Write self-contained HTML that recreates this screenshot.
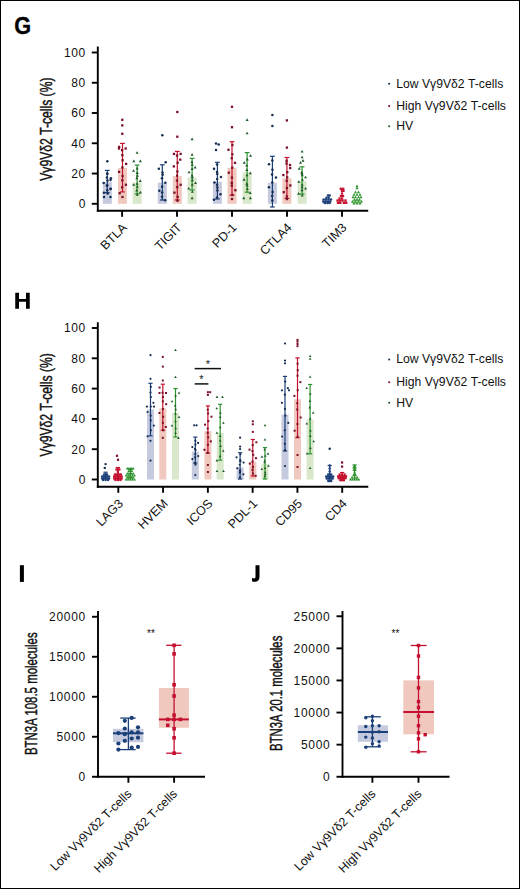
<!DOCTYPE html><html><head><meta charset="utf-8"><title>Figure</title><style>html,body{margin:0;padding:0;background:#fff;width:520px;height:889px;overflow:hidden}svg{display:block}text{font-family:"Liberation Sans",sans-serif}</style></head><body>
<svg width="520" height="889" viewBox="0 0 520 889">
<rect x="0" y="0" width="520" height="889" fill="#fff"/>
<rect x="0.5" y="0.5" width="519" height="888" fill="none" stroke="#000" stroke-width="1"/>
<text transform="translate(14.3 33.9) scale(0.93 1)" font-size="23.3" font-weight="bold" fill="#000" stroke="#000" stroke-width="0.35">G</text>
<path d="M15.25,292.75h3.75v6.35h7v-6.35h3.75v16h-3.75v-7h-7v7h-3.75z" fill="#000"/>
<rect x="19.9" y="565.2" width="4" height="16.7" fill="#000"/>
<path d="M255.5,565.25H259.5V576.6C259.5,580.3 257.6,581.85 254.9,581.85C253.6,581.85 252.6,581.6 252,581.3V578C252.6,578.3 253.4,578.4 254.2,578.4C255.2,578.4 255.5,577.8 255.5,576.5Z" fill="#000"/>
<line x1="97.8" y1="46.5" x2="97.8" y2="211.75" stroke="#000" stroke-width="1.9"/>
<line x1="96.85" y1="210.8" x2="368.2" y2="210.8" stroke="#000" stroke-width="1.9"/>
<line x1="91.8" y1="52.5" x2="97.8" y2="52.5" stroke="#000" stroke-width="1.9"/>
<text x="86.00" y="56.80" text-anchor="end" font-size="12" letter-spacing="0.7" fill="#111">100</text>
<line x1="91.8" y1="82.76" x2="97.8" y2="82.76" stroke="#000" stroke-width="1.9"/>
<text x="86.00" y="87.06" text-anchor="end" font-size="12" letter-spacing="0.7" fill="#111">80</text>
<line x1="91.8" y1="113.02000000000001" x2="97.8" y2="113.02000000000001" stroke="#000" stroke-width="1.9"/>
<text x="86.00" y="117.32" text-anchor="end" font-size="12" letter-spacing="0.7" fill="#111">60</text>
<line x1="91.8" y1="143.28" x2="97.8" y2="143.28" stroke="#000" stroke-width="1.9"/>
<text x="86.00" y="147.58" text-anchor="end" font-size="12" letter-spacing="0.7" fill="#111">40</text>
<line x1="91.8" y1="173.54000000000002" x2="97.8" y2="173.54000000000002" stroke="#000" stroke-width="1.9"/>
<text x="86.00" y="177.84" text-anchor="end" font-size="12" letter-spacing="0.7" fill="#111">20</text>
<line x1="91.8" y1="203.8" x2="97.8" y2="203.8" stroke="#000" stroke-width="1.9"/>
<text x="86.00" y="208.10" text-anchor="end" font-size="12" letter-spacing="0.7" fill="#111">0</text>
<line x1="122.1" y1="210.8" x2="122.1" y2="216.8" stroke="#000" stroke-width="1.9"/>
<line x1="177" y1="210.8" x2="177" y2="216.8" stroke="#000" stroke-width="1.9"/>
<line x1="232" y1="210.8" x2="232" y2="216.8" stroke="#000" stroke-width="1.9"/>
<line x1="287" y1="210.8" x2="287" y2="216.8" stroke="#000" stroke-width="1.9"/>
<line x1="342" y1="210.8" x2="342" y2="216.8" stroke="#000" stroke-width="1.9"/>
<text x="127.60" y="228.30" transform="rotate(-45 127.60 228.30)" text-anchor="end" font-size="12.5" fill="#111">BTLA</text>
<text x="182.50" y="228.30" transform="rotate(-45 182.50 228.30)" text-anchor="end" font-size="12.5" fill="#111">TIGIT</text>
<text x="237.50" y="228.30" transform="rotate(-45 237.50 228.30)" text-anchor="end" font-size="12.5" fill="#111">PD-1</text>
<text x="292.50" y="228.30" transform="rotate(-45 292.50 228.30)" text-anchor="end" font-size="12.5" fill="#111">CTLA4</text>
<text x="347.50" y="228.30" transform="rotate(-45 347.50 228.30)" text-anchor="end" font-size="12.5" fill="#111">TIM3</text>
<text transform="translate(51.90 129.15) rotate(-90)" x="0" y="0" text-anchor="middle" font-size="17.3" textLength="103.3" lengthAdjust="spacingAndGlyphs" fill="#111" stroke="#111" stroke-width="0.45">V&#947;9V&#948;2 T-cells (%)</text>
<circle cx="389.20" cy="83.80" r="1.05" fill="#142d50"/>
<text x="396.2" y="87.7" font-size="12.2" fill="#111">Low V&#947;9V&#948;2 T-cells</text>
<circle cx="389.20" cy="106.10" r="1.05" fill="#7a1028"/>
<text x="396.2" y="110.0" font-size="12.2" fill="#111">High V&#947;9V&#948;2 T-cells</text>
<circle cx="389.20" cy="126.30" r="1.05" fill="#1f5a26"/>
<text x="396.2" y="130.2" font-size="12.2" fill="#111">HV</text>
<rect x="102.80" y="182.00" width="9.00" height="21.80" fill="#c5cadf"/>
<line x1="107.30" y1="170.40" x2="107.30" y2="192.70" stroke="#1b3f78" stroke-width="1.2"/>
<line x1="104.90" y1="170.40" x2="109.70" y2="170.40" stroke="#1b3f78" stroke-width="1.2"/>
<line x1="104.90" y1="192.70" x2="109.70" y2="192.70" stroke="#1b3f78" stroke-width="1.2"/>
<circle cx="107.30" cy="161.20" r="1.26" fill="#142d50"/>
<circle cx="110.50" cy="180.00" r="1.26" fill="#142d50"/>
<circle cx="104.00" cy="197.00" r="1.26" fill="#142d50"/>
<circle cx="110.50" cy="197.00" r="1.26" fill="#142d50"/>
<circle cx="110.50" cy="189.00" r="1.26" fill="#142d50"/>
<circle cx="107.58" cy="193.50" r="1.26" fill="#142d50"/>
<circle cx="103.90" cy="192.82" r="1.26" fill="#142d50"/>
<circle cx="107.26" cy="190.34" r="1.26" fill="#142d50"/>
<circle cx="110.73" cy="188.71" r="1.26" fill="#142d50"/>
<circle cx="106.92" cy="185.65" r="1.26" fill="#142d50"/>
<circle cx="107.25" cy="185.19" r="1.26" fill="#142d50"/>
<circle cx="103.70" cy="183.10" r="1.26" fill="#142d50"/>
<circle cx="107.48" cy="180.53" r="1.26" fill="#142d50"/>
<circle cx="110.86" cy="178.15" r="1.26" fill="#142d50"/>
<circle cx="106.92" cy="177.56" r="1.26" fill="#142d50"/>
<circle cx="107.33" cy="173.86" r="1.26" fill="#142d50"/>
<circle cx="107.20" cy="173.75" r="1.26" fill="#142d50"/>
<rect x="118.00" y="167.90" width="9.00" height="35.90" fill="#f0c8be"/>
<line x1="122.50" y1="143.40" x2="122.50" y2="191.90" stroke="#c40f2e" stroke-width="1.2"/>
<line x1="120.10" y1="143.40" x2="124.90" y2="143.40" stroke="#c40f2e" stroke-width="1.2"/>
<line x1="120.10" y1="191.90" x2="124.90" y2="191.90" stroke="#c40f2e" stroke-width="1.2"/>
<rect x="121.15" y="118.65" width="2.30" height="2.30" fill="#7a1028"/>
<rect x="121.15" y="124.25" width="2.30" height="2.30" fill="#7a1028"/>
<rect x="121.15" y="132.65" width="2.30" height="2.30" fill="#7a1028"/>
<rect x="117.85" y="147.35" width="2.30" height="2.30" fill="#7a1028"/>
<rect x="124.55" y="147.35" width="2.30" height="2.30" fill="#7a1028"/>
<rect x="121.35" y="195.85" width="2.30" height="2.30" fill="#7a1028"/>
<rect x="118.51" y="192.10" width="2.30" height="2.30" fill="#7a1028"/>
<rect x="121.02" y="186.18" width="2.30" height="2.30" fill="#7a1028"/>
<rect x="124.74" y="183.61" width="2.30" height="2.30" fill="#7a1028"/>
<rect x="121.20" y="179.15" width="2.30" height="2.30" fill="#7a1028"/>
<rect x="121.44" y="174.90" width="2.30" height="2.30" fill="#7a1028"/>
<rect x="117.88" y="170.72" width="2.30" height="2.30" fill="#7a1028"/>
<rect x="121.26" y="166.30" width="2.30" height="2.30" fill="#7a1028"/>
<rect x="124.95" y="162.76" width="2.30" height="2.30" fill="#7a1028"/>
<rect x="121.39" y="159.09" width="2.30" height="2.30" fill="#7a1028"/>
<rect x="121.16" y="153.95" width="2.30" height="2.30" fill="#7a1028"/>
<rect x="120.97" y="149.01" width="2.30" height="2.30" fill="#7a1028"/>
<rect x="118.00" y="145.74" width="2.30" height="2.30" fill="#7a1028"/>
<rect x="132.60" y="182.50" width="9.00" height="21.30" fill="#d9e8cb"/>
<line x1="137.10" y1="165.10" x2="137.10" y2="193.80" stroke="#2c932e" stroke-width="1.2"/>
<line x1="134.70" y1="165.10" x2="139.50" y2="165.10" stroke="#2c932e" stroke-width="1.2"/>
<line x1="134.70" y1="193.80" x2="139.50" y2="193.80" stroke="#2c932e" stroke-width="1.2"/>
<path d="M137.10,151.18L138.59,153.84L135.60,153.84Z" fill="#1f5a26"/>
<path d="M133.80,159.48L135.30,162.14L132.31,162.14Z" fill="#1f5a26"/>
<path d="M140.40,159.48L141.90,162.14L138.91,162.14Z" fill="#1f5a26"/>
<path d="M137.14,193.02L138.63,195.68L135.64,195.68Z" fill="#1f5a26"/>
<path d="M140.38,190.81L141.88,193.47L138.89,193.47Z" fill="#1f5a26"/>
<path d="M136.75,188.85L138.25,191.50L135.26,191.50Z" fill="#1f5a26"/>
<path d="M137.37,185.15L138.86,187.80L135.87,187.80Z" fill="#1f5a26"/>
<path d="M133.69,183.16L135.18,185.82L132.19,185.82Z" fill="#1f5a26"/>
<path d="M137.08,182.16L138.57,184.82L135.58,184.82Z" fill="#1f5a26"/>
<path d="M140.28,179.37L141.78,182.02L138.79,182.02Z" fill="#1f5a26"/>
<path d="M136.82,176.50L138.32,179.15L135.33,179.15Z" fill="#1f5a26"/>
<path d="M137.39,174.01L138.89,176.67L135.90,176.67Z" fill="#1f5a26"/>
<path d="M137.29,171.32L138.79,173.97L135.80,173.97Z" fill="#1f5a26"/>
<path d="M133.55,169.14L135.05,171.79L132.06,171.79Z" fill="#1f5a26"/>
<path d="M137.17,166.84L138.67,169.49L135.68,169.49Z" fill="#1f5a26"/>
<rect x="157.80" y="182.60" width="9.00" height="21.20" fill="#c5cadf"/>
<line x1="162.30" y1="164.80" x2="162.30" y2="200.00" stroke="#1b3f78" stroke-width="1.2"/>
<line x1="159.90" y1="164.80" x2="164.70" y2="164.80" stroke="#1b3f78" stroke-width="1.2"/>
<line x1="159.90" y1="200.00" x2="164.70" y2="200.00" stroke="#1b3f78" stroke-width="1.2"/>
<circle cx="162.30" cy="135.30" r="1.26" fill="#142d50"/>
<circle cx="165.70" cy="162.30" r="1.26" fill="#142d50"/>
<circle cx="165.18" cy="200.16" r="1.26" fill="#142d50"/>
<circle cx="162.02" cy="196.86" r="1.26" fill="#142d50"/>
<circle cx="162.22" cy="192.58" r="1.26" fill="#142d50"/>
<circle cx="159.34" cy="190.67" r="1.26" fill="#142d50"/>
<circle cx="162.08" cy="186.74" r="1.26" fill="#142d50"/>
<circle cx="165.32" cy="182.66" r="1.26" fill="#142d50"/>
<circle cx="161.98" cy="178.32" r="1.26" fill="#142d50"/>
<circle cx="162.64" cy="174.78" r="1.26" fill="#142d50"/>
<circle cx="162.55" cy="172.39" r="1.26" fill="#142d50"/>
<circle cx="158.85" cy="168.71" r="1.26" fill="#142d50"/>
<rect x="172.80" y="176.10" width="9.00" height="27.70" fill="#f0c8be"/>
<line x1="177.30" y1="151.40" x2="177.30" y2="200.00" stroke="#c40f2e" stroke-width="1.2"/>
<line x1="174.90" y1="151.40" x2="179.70" y2="151.40" stroke="#c40f2e" stroke-width="1.2"/>
<line x1="174.90" y1="200.00" x2="179.70" y2="200.00" stroke="#c40f2e" stroke-width="1.2"/>
<rect x="176.15" y="110.85" width="2.30" height="2.30" fill="#7a1028"/>
<rect x="176.15" y="135.55" width="2.30" height="2.30" fill="#7a1028"/>
<rect x="172.85" y="152.75" width="2.30" height="2.30" fill="#7a1028"/>
<rect x="179.45" y="152.75" width="2.30" height="2.30" fill="#7a1028"/>
<rect x="176.34" y="199.53" width="2.30" height="2.30" fill="#7a1028"/>
<rect x="176.50" y="195.74" width="2.30" height="2.30" fill="#7a1028"/>
<rect x="173.29" y="191.50" width="2.30" height="2.30" fill="#7a1028"/>
<rect x="176.12" y="185.94" width="2.30" height="2.30" fill="#7a1028"/>
<rect x="179.47" y="183.64" width="2.30" height="2.30" fill="#7a1028"/>
<rect x="175.84" y="179.42" width="2.30" height="2.30" fill="#7a1028"/>
<rect x="175.95" y="174.42" width="2.30" height="2.30" fill="#7a1028"/>
<rect x="176.21" y="170.44" width="2.30" height="2.30" fill="#7a1028"/>
<rect x="172.72" y="165.24" width="2.30" height="2.30" fill="#7a1028"/>
<rect x="176.48" y="161.64" width="2.30" height="2.30" fill="#7a1028"/>
<rect x="179.08" y="158.48" width="2.30" height="2.30" fill="#7a1028"/>
<rect x="175.86" y="154.41" width="2.30" height="2.30" fill="#7a1028"/>
<rect x="187.60" y="177.50" width="9.00" height="26.30" fill="#d9e8cb"/>
<line x1="192.10" y1="158.40" x2="192.10" y2="190.00" stroke="#2c932e" stroke-width="1.2"/>
<line x1="189.70" y1="158.40" x2="194.50" y2="158.40" stroke="#2c932e" stroke-width="1.2"/>
<line x1="189.70" y1="190.00" x2="194.50" y2="190.00" stroke="#2c932e" stroke-width="1.2"/>
<path d="M192.10,137.48L193.59,140.14L190.60,140.14Z" fill="#1f5a26"/>
<path d="M192.10,152.98L193.59,155.64L190.60,155.64Z" fill="#1f5a26"/>
<path d="M192.10,196.48L193.59,199.14L190.60,199.14Z" fill="#1f5a26"/>
<path d="M192.36,190.21L193.85,192.87L190.86,192.87Z" fill="#1f5a26"/>
<path d="M188.71,186.88L190.20,189.53L187.21,189.53Z" fill="#1f5a26"/>
<path d="M192.23,183.19L193.73,185.85L190.74,185.85Z" fill="#1f5a26"/>
<path d="M195.51,181.41L197.00,184.07L194.01,184.07Z" fill="#1f5a26"/>
<path d="M192.32,178.50L193.81,181.16L190.82,181.16Z" fill="#1f5a26"/>
<path d="M192.34,175.59L193.84,178.24L190.85,178.24Z" fill="#1f5a26"/>
<path d="M192.03,173.78L193.53,176.44L190.54,176.44Z" fill="#1f5a26"/>
<path d="M189.05,170.68L190.54,173.34L187.55,173.34Z" fill="#1f5a26"/>
<path d="M192.14,167.28L193.64,169.93L190.65,169.93Z" fill="#1f5a26"/>
<path d="M195.11,165.78L196.61,168.44L193.62,168.44Z" fill="#1f5a26"/>
<path d="M192.25,163.06L193.74,165.72L190.75,165.72Z" fill="#1f5a26"/>
<path d="M191.97,160.43L193.46,163.09L190.47,163.09Z" fill="#1f5a26"/>
<rect x="212.90" y="181.70" width="9.00" height="22.10" fill="#c5cadf"/>
<line x1="217.40" y1="162.30" x2="217.40" y2="199.00" stroke="#1b3f78" stroke-width="1.2"/>
<line x1="215.00" y1="162.30" x2="219.80" y2="162.30" stroke="#1b3f78" stroke-width="1.2"/>
<line x1="215.00" y1="199.00" x2="219.80" y2="199.00" stroke="#1b3f78" stroke-width="1.2"/>
<circle cx="216.00" cy="143.60" r="1.26" fill="#142d50"/>
<circle cx="218.70" cy="144.60" r="1.26" fill="#142d50"/>
<circle cx="216.00" cy="150.00" r="1.26" fill="#142d50"/>
<circle cx="213.92" cy="199.70" r="1.26" fill="#142d50"/>
<circle cx="217.06" cy="197.45" r="1.26" fill="#142d50"/>
<circle cx="220.49" cy="194.32" r="1.26" fill="#142d50"/>
<circle cx="217.41" cy="190.47" r="1.26" fill="#142d50"/>
<circle cx="217.35" cy="187.52" r="1.26" fill="#142d50"/>
<circle cx="217.07" cy="184.69" r="1.26" fill="#142d50"/>
<circle cx="214.46" cy="182.50" r="1.26" fill="#142d50"/>
<circle cx="217.18" cy="179.00" r="1.26" fill="#142d50"/>
<circle cx="220.96" cy="177.10" r="1.26" fill="#142d50"/>
<circle cx="217.32" cy="174.10" r="1.26" fill="#142d50"/>
<circle cx="217.04" cy="172.00" r="1.26" fill="#142d50"/>
<circle cx="214.03" cy="168.87" r="1.26" fill="#142d50"/>
<circle cx="217.09" cy="164.54" r="1.26" fill="#142d50"/>
<rect x="227.50" y="167.80" width="9.00" height="36.00" fill="#f0c8be"/>
<line x1="232.00" y1="141.70" x2="232.00" y2="195.30" stroke="#c40f2e" stroke-width="1.2"/>
<line x1="229.60" y1="141.70" x2="234.40" y2="141.70" stroke="#c40f2e" stroke-width="1.2"/>
<line x1="229.60" y1="195.30" x2="234.40" y2="195.30" stroke="#c40f2e" stroke-width="1.2"/>
<rect x="230.85" y="105.65" width="2.30" height="2.30" fill="#7a1028"/>
<rect x="230.85" y="126.05" width="2.30" height="2.30" fill="#7a1028"/>
<rect x="230.85" y="197.85" width="2.30" height="2.30" fill="#7a1028"/>
<rect x="231.22" y="193.83" width="2.30" height="2.30" fill="#7a1028"/>
<rect x="234.21" y="189.08" width="2.30" height="2.30" fill="#7a1028"/>
<rect x="230.65" y="184.45" width="2.30" height="2.30" fill="#7a1028"/>
<rect x="230.62" y="181.72" width="2.30" height="2.30" fill="#7a1028"/>
<rect x="230.82" y="176.46" width="2.30" height="2.30" fill="#7a1028"/>
<rect x="227.65" y="171.53" width="2.30" height="2.30" fill="#7a1028"/>
<rect x="231.11" y="166.46" width="2.30" height="2.30" fill="#7a1028"/>
<rect x="233.84" y="161.70" width="2.30" height="2.30" fill="#7a1028"/>
<rect x="230.66" y="157.01" width="2.30" height="2.30" fill="#7a1028"/>
<rect x="231.17" y="153.24" width="2.30" height="2.30" fill="#7a1028"/>
<rect x="227.34" y="148.63" width="2.30" height="2.30" fill="#7a1028"/>
<rect x="231.24" y="143.84" width="2.30" height="2.30" fill="#7a1028"/>
<rect x="242.60" y="172.40" width="9.00" height="31.40" fill="#d9e8cb"/>
<line x1="247.10" y1="152.60" x2="247.10" y2="192.20" stroke="#2c932e" stroke-width="1.2"/>
<line x1="244.70" y1="152.60" x2="249.50" y2="152.60" stroke="#2c932e" stroke-width="1.2"/>
<line x1="244.70" y1="192.20" x2="249.50" y2="192.20" stroke="#2c932e" stroke-width="1.2"/>
<path d="M247.10,118.28L248.59,120.94L245.60,120.94Z" fill="#1f5a26"/>
<path d="M247.10,131.68L248.59,134.34L245.60,134.34Z" fill="#1f5a26"/>
<path d="M243.80,196.48L245.30,199.14L242.31,199.14Z" fill="#1f5a26"/>
<path d="M250.40,196.48L251.90,199.14L248.91,199.14Z" fill="#1f5a26"/>
<path d="M250.20,191.42L251.69,194.07L248.70,194.07Z" fill="#1f5a26"/>
<path d="M247.39,187.38L248.89,190.04L245.90,190.04Z" fill="#1f5a26"/>
<path d="M247.10,183.74L248.60,186.39L245.61,186.39Z" fill="#1f5a26"/>
<path d="M246.76,182.14L248.26,184.79L245.27,184.79Z" fill="#1f5a26"/>
<path d="M243.99,178.07L245.49,180.72L242.50,180.72Z" fill="#1f5a26"/>
<path d="M247.00,173.66L248.50,176.31L245.51,176.31Z" fill="#1f5a26"/>
<path d="M250.26,171.60L251.76,174.25L248.77,174.25Z" fill="#1f5a26"/>
<path d="M246.83,168.26L248.32,170.91L245.33,170.91Z" fill="#1f5a26"/>
<path d="M246.79,163.90L248.28,166.56L245.29,166.56Z" fill="#1f5a26"/>
<path d="M244.24,161.05L245.73,163.71L242.74,163.71Z" fill="#1f5a26"/>
<path d="M247.32,157.84L248.81,160.49L245.82,160.49Z" fill="#1f5a26"/>
<path d="M250.50,154.04L251.99,156.70L249.00,156.70Z" fill="#1f5a26"/>
<rect x="267.90" y="182.70" width="9.00" height="21.10" fill="#c5cadf"/>
<line x1="272.40" y1="156.30" x2="272.40" y2="207.00" stroke="#1b3f78" stroke-width="1.2"/>
<line x1="270.00" y1="156.30" x2="274.80" y2="156.30" stroke="#1b3f78" stroke-width="1.2"/>
<line x1="270.00" y1="207.00" x2="274.80" y2="207.00" stroke="#1b3f78" stroke-width="1.2"/>
<circle cx="272.40" cy="115.10" r="1.26" fill="#142d50"/>
<circle cx="272.40" cy="126.00" r="1.26" fill="#142d50"/>
<circle cx="272.34" cy="200.50" r="1.26" fill="#142d50"/>
<circle cx="272.16" cy="196.04" r="1.26" fill="#142d50"/>
<circle cx="272.66" cy="192.03" r="1.26" fill="#142d50"/>
<circle cx="268.93" cy="187.23" r="1.26" fill="#142d50"/>
<circle cx="272.26" cy="182.48" r="1.26" fill="#142d50"/>
<circle cx="275.96" cy="177.46" r="1.26" fill="#142d50"/>
<circle cx="272.04" cy="174.47" r="1.26" fill="#142d50"/>
<circle cx="272.48" cy="169.72" r="1.26" fill="#142d50"/>
<circle cx="269.03" cy="164.28" r="1.26" fill="#142d50"/>
<circle cx="272.37" cy="160.39" r="1.26" fill="#142d50"/>
<rect x="282.40" y="178.20" width="9.00" height="25.60" fill="#f0c8be"/>
<line x1="286.90" y1="157.50" x2="286.90" y2="198.40" stroke="#c40f2e" stroke-width="1.2"/>
<line x1="284.50" y1="157.50" x2="289.30" y2="157.50" stroke="#c40f2e" stroke-width="1.2"/>
<line x1="284.50" y1="198.40" x2="289.30" y2="198.40" stroke="#c40f2e" stroke-width="1.2"/>
<rect x="285.75" y="119.25" width="2.30" height="2.30" fill="#7a1028"/>
<rect x="285.75" y="146.45" width="2.30" height="2.30" fill="#7a1028"/>
<rect x="288.85" y="163.85" width="2.30" height="2.30" fill="#7a1028"/>
<rect x="285.80" y="197.91" width="2.30" height="2.30" fill="#7a1028"/>
<rect x="285.72" y="195.36" width="2.30" height="2.30" fill="#7a1028"/>
<rect x="282.62" y="191.04" width="2.30" height="2.30" fill="#7a1028"/>
<rect x="285.76" y="186.90" width="2.30" height="2.30" fill="#7a1028"/>
<rect x="289.18" y="184.30" width="2.30" height="2.30" fill="#7a1028"/>
<rect x="285.59" y="179.73" width="2.30" height="2.30" fill="#7a1028"/>
<rect x="286.00" y="176.24" width="2.30" height="2.30" fill="#7a1028"/>
<rect x="282.18" y="173.95" width="2.30" height="2.30" fill="#7a1028"/>
<rect x="286.12" y="171.04" width="2.30" height="2.30" fill="#7a1028"/>
<rect x="289.04" y="166.89" width="2.30" height="2.30" fill="#7a1028"/>
<rect x="285.36" y="162.40" width="2.30" height="2.30" fill="#7a1028"/>
<rect x="285.40" y="159.65" width="2.30" height="2.30" fill="#7a1028"/>
<rect x="297.60" y="181.00" width="9.00" height="22.80" fill="#d9e8cb"/>
<line x1="302.10" y1="166.80" x2="302.10" y2="194.00" stroke="#2c932e" stroke-width="1.2"/>
<line x1="299.70" y1="166.80" x2="304.50" y2="166.80" stroke="#2c932e" stroke-width="1.2"/>
<line x1="299.70" y1="194.00" x2="304.50" y2="194.00" stroke="#2c932e" stroke-width="1.2"/>
<path d="M302.10,149.88L303.60,152.54L300.61,152.54Z" fill="#1f5a26"/>
<path d="M302.10,155.68L303.60,158.34L300.61,158.34Z" fill="#1f5a26"/>
<path d="M303.00,159.08L304.50,161.74L301.50,161.74Z" fill="#1f5a26"/>
<path d="M300.50,160.98L302.00,163.64L299.00,163.64Z" fill="#1f5a26"/>
<path d="M302.23,193.85L303.72,196.50L300.73,196.50Z" fill="#1f5a26"/>
<path d="M298.61,192.06L300.11,194.72L297.12,194.72Z" fill="#1f5a26"/>
<path d="M302.00,188.58L303.49,191.24L300.50,191.24Z" fill="#1f5a26"/>
<path d="M305.55,186.94L307.04,189.59L304.05,189.59Z" fill="#1f5a26"/>
<path d="M302.18,185.60L303.68,188.26L300.69,188.26Z" fill="#1f5a26"/>
<path d="M302.23,183.17L303.72,185.82L300.73,185.82Z" fill="#1f5a26"/>
<path d="M298.85,180.17L300.35,182.83L297.36,182.83Z" fill="#1f5a26"/>
<path d="M302.42,178.04L303.92,180.69L300.93,180.69Z" fill="#1f5a26"/>
<path d="M305.56,175.66L307.05,178.32L304.06,178.32Z" fill="#1f5a26"/>
<path d="M302.25,173.52L303.74,176.18L300.75,176.18Z" fill="#1f5a26"/>
<path d="M302.02,171.88L303.52,174.54L300.53,174.54Z" fill="#1f5a26"/>
<path d="M301.71,170.72L303.21,173.38L300.22,173.38Z" fill="#1f5a26"/>
<path d="M299.23,166.99L300.73,169.64L297.74,169.64Z" fill="#1f5a26"/>
<rect x="322.5" y="200.5" width="9" height="3.3" fill="#c5cadf"/>
<rect x="337.5" y="199.5" width="9" height="4.3" fill="#f0c8be"/>
<rect x="352.5" y="199.5" width="9" height="4.3" fill="#d9e8cb"/>
<circle cx="328.00" cy="195.60" r="1.26" fill="#1b3f78"/>
<circle cx="329.70" cy="195.60" r="1.26" fill="#1b3f78"/>
<circle cx="326.50" cy="197.80" r="1.26" fill="#1b3f78"/>
<circle cx="328.70" cy="197.80" r="1.26" fill="#1b3f78"/>
<circle cx="323.70" cy="199.60" r="1.26" fill="#1b3f78"/>
<circle cx="326.00" cy="199.60" r="1.26" fill="#1b3f78"/>
<circle cx="328.50" cy="199.60" r="1.26" fill="#1b3f78"/>
<circle cx="331.00" cy="199.60" r="1.26" fill="#1b3f78"/>
<circle cx="323.30" cy="201.60" r="1.26" fill="#1b3f78"/>
<circle cx="325.50" cy="201.60" r="1.26" fill="#1b3f78"/>
<circle cx="327.80" cy="201.60" r="1.26" fill="#1b3f78"/>
<circle cx="330.00" cy="201.60" r="1.26" fill="#1b3f78"/>
<circle cx="325.00" cy="203.00" r="1.26" fill="#1b3f78"/>
<circle cx="327.50" cy="203.00" r="1.26" fill="#1b3f78"/>
<circle cx="329.50" cy="203.00" r="1.26" fill="#1b3f78"/>
<rect x="339.65" y="187.65" width="2.30" height="2.30" fill="#c40f2e"/>
<rect x="342.05" y="187.65" width="2.30" height="2.30" fill="#c40f2e"/>
<rect x="340.85" y="189.65" width="2.30" height="2.30" fill="#c40f2e"/>
<rect x="342.35" y="189.65" width="2.30" height="2.30" fill="#c40f2e"/>
<rect x="340.85" y="192.35" width="2.30" height="2.30" fill="#c40f2e"/>
<rect x="339.85" y="194.85" width="2.30" height="2.30" fill="#c40f2e"/>
<rect x="341.85" y="194.85" width="2.30" height="2.30" fill="#c40f2e"/>
<rect x="338.35" y="197.35" width="2.30" height="2.30" fill="#c40f2e"/>
<rect x="340.85" y="197.35" width="2.30" height="2.30" fill="#c40f2e"/>
<rect x="336.35" y="199.35" width="2.30" height="2.30" fill="#c40f2e"/>
<rect x="338.85" y="199.35" width="2.30" height="2.30" fill="#c40f2e"/>
<rect x="341.35" y="199.35" width="2.30" height="2.30" fill="#c40f2e"/>
<rect x="344.35" y="199.35" width="2.30" height="2.30" fill="#c40f2e"/>
<rect x="336.85" y="201.65" width="2.30" height="2.30" fill="#c40f2e"/>
<rect x="339.05" y="201.65" width="2.30" height="2.30" fill="#c40f2e"/>
<rect x="342.85" y="201.65" width="2.30" height="2.30" fill="#c40f2e"/>
<rect x="345.15" y="201.65" width="2.30" height="2.30" fill="#c40f2e"/>
<path d="M357.00,184.48L358.50,187.14L355.50,187.14Z" fill="#2c932e"/>
<path d="M357.00,186.48L358.50,189.14L355.50,189.14Z" fill="#2c932e"/>
<path d="M355.50,190.48L357.00,193.14L354.00,193.14Z" fill="#2c932e"/>
<path d="M358.50,190.48L360.00,193.14L357.00,193.14Z" fill="#2c932e"/>
<path d="M354.00,192.98L355.50,195.64L352.50,195.64Z" fill="#2c932e"/>
<path d="M357.00,192.98L358.50,195.64L355.50,195.64Z" fill="#2c932e"/>
<path d="M360.00,192.98L361.50,195.64L358.50,195.64Z" fill="#2c932e"/>
<path d="M353.00,195.48L354.50,198.14L351.50,198.14Z" fill="#2c932e"/>
<path d="M355.50,195.48L357.00,198.14L354.00,198.14Z" fill="#2c932e"/>
<path d="M358.50,195.48L360.00,198.14L357.00,198.14Z" fill="#2c932e"/>
<path d="M361.00,195.48L362.50,198.14L359.50,198.14Z" fill="#2c932e"/>
<path d="M354.50,197.98L356.00,200.64L353.00,200.64Z" fill="#2c932e"/>
<path d="M357.00,197.98L358.50,200.64L355.50,200.64Z" fill="#2c932e"/>
<path d="M359.50,197.98L361.00,200.64L358.00,200.64Z" fill="#2c932e"/>
<path d="M352.50,199.98L354.00,202.64L351.00,202.64Z" fill="#2c932e"/>
<path d="M355.50,199.98L357.00,202.64L354.00,202.64Z" fill="#2c932e"/>
<path d="M358.50,199.98L360.00,202.64L357.00,202.64Z" fill="#2c932e"/>
<path d="M361.50,199.98L363.00,202.64L360.00,202.64Z" fill="#2c932e"/>
<path d="M354.00,201.78L355.50,204.44L352.50,204.44Z" fill="#2c932e"/>
<path d="M357.00,201.78L358.50,204.44L355.50,204.44Z" fill="#2c932e"/>
<path d="M360.00,201.78L361.50,204.44L358.50,204.44Z" fill="#2c932e"/>
<line x1="97.8" y1="322.2" x2="97.8" y2="487.75" stroke="#000" stroke-width="1.9"/>
<line x1="96.85" y1="486.8" x2="368.3" y2="486.8" stroke="#000" stroke-width="1.9"/>
<line x1="91.8" y1="328.0" x2="97.8" y2="328.0" stroke="#000" stroke-width="1.9"/>
<text x="86.00" y="332.30" text-anchor="end" font-size="12" letter-spacing="0.7" fill="#111">100</text>
<line x1="91.8" y1="358.3" x2="97.8" y2="358.3" stroke="#000" stroke-width="1.9"/>
<text x="86.00" y="362.60" text-anchor="end" font-size="12" letter-spacing="0.7" fill="#111">80</text>
<line x1="91.8" y1="388.6" x2="97.8" y2="388.6" stroke="#000" stroke-width="1.9"/>
<text x="86.00" y="392.90" text-anchor="end" font-size="12" letter-spacing="0.7" fill="#111">60</text>
<line x1="91.8" y1="418.9" x2="97.8" y2="418.9" stroke="#000" stroke-width="1.9"/>
<text x="86.00" y="423.20" text-anchor="end" font-size="12" letter-spacing="0.7" fill="#111">40</text>
<line x1="91.8" y1="449.2" x2="97.8" y2="449.2" stroke="#000" stroke-width="1.9"/>
<text x="86.00" y="453.50" text-anchor="end" font-size="12" letter-spacing="0.7" fill="#111">20</text>
<line x1="91.8" y1="479.5" x2="97.8" y2="479.5" stroke="#000" stroke-width="1.9"/>
<text x="86.00" y="483.80" text-anchor="end" font-size="12" letter-spacing="0.7" fill="#111">0</text>
<line x1="118.3" y1="486.8" x2="118.3" y2="492.8" stroke="#000" stroke-width="1.9"/>
<line x1="163.07999999999998" y1="486.8" x2="163.07999999999998" y2="492.8" stroke="#000" stroke-width="1.9"/>
<line x1="207.86" y1="486.8" x2="207.86" y2="492.8" stroke="#000" stroke-width="1.9"/>
<line x1="252.64" y1="486.8" x2="252.64" y2="492.8" stroke="#000" stroke-width="1.9"/>
<line x1="297.42" y1="486.8" x2="297.42" y2="492.8" stroke="#000" stroke-width="1.9"/>
<line x1="342.2" y1="486.8" x2="342.2" y2="492.8" stroke="#000" stroke-width="1.9"/>
<text x="123.80" y="504.30" transform="rotate(-45 123.80 504.30)" text-anchor="end" font-size="12.5" fill="#111">LAG3</text>
<text x="168.58" y="504.30" transform="rotate(-45 168.58 504.30)" text-anchor="end" font-size="12.5" fill="#111">HVEM</text>
<text x="213.36" y="504.30" transform="rotate(-45 213.36 504.30)" text-anchor="end" font-size="12.5" fill="#111">ICOS</text>
<text x="258.14" y="504.30" transform="rotate(-45 258.14 504.30)" text-anchor="end" font-size="12.5" fill="#111">PDL-1</text>
<text x="302.92" y="504.30" transform="rotate(-45 302.92 504.30)" text-anchor="end" font-size="12.5" fill="#111">CD95</text>
<text x="347.70" y="504.30" transform="rotate(-45 347.70 504.30)" text-anchor="end" font-size="12.5" fill="#111">CD4</text>
<text transform="translate(51.90 404.80) rotate(-90)" x="0" y="0" text-anchor="middle" font-size="17.3" textLength="103.3" lengthAdjust="spacingAndGlyphs" fill="#111" stroke="#111" stroke-width="0.45">V&#947;9V&#948;2 T-cells (%)</text>
<circle cx="389.20" cy="359.50" r="1.05" fill="#142d50"/>
<text x="396.2" y="363.4" font-size="12.2" fill="#111">Low V&#947;9V&#948;2 T-cells</text>
<circle cx="389.20" cy="382.20" r="1.05" fill="#7a1028"/>
<text x="396.2" y="386.1" font-size="12.2" fill="#111">High V&#947;9V&#948;2 T-cells</text>
<circle cx="389.20" cy="402.70" r="1.05" fill="#1f5a26"/>
<text x="396.2" y="406.6" font-size="12.2" fill="#111">HV</text>
<rect x="147.00" y="409.50" width="7.00" height="70.00" fill="#c5cadf"/>
<line x1="150.50" y1="383.30" x2="150.50" y2="435.80" stroke="#1b3f78" stroke-width="1.2"/>
<line x1="148.40" y1="383.30" x2="152.60" y2="383.30" stroke="#1b3f78" stroke-width="1.2"/>
<line x1="148.40" y1="435.80" x2="152.60" y2="435.80" stroke="#1b3f78" stroke-width="1.2"/>
<circle cx="150.50" cy="355.20" r="1.10" fill="#142d50"/>
<circle cx="150.50" cy="378.80" r="1.10" fill="#142d50"/>
<circle cx="147.00" cy="406.60" r="1.10" fill="#142d50"/>
<circle cx="154.00" cy="406.60" r="1.10" fill="#142d50"/>
<circle cx="150.50" cy="440.80" r="1.10" fill="#142d50"/>
<circle cx="150.50" cy="460.60" r="1.10" fill="#142d50"/>
<circle cx="147.57" cy="436.29" r="1.10" fill="#142d50"/>
<circle cx="150.90" cy="430.37" r="1.10" fill="#142d50"/>
<circle cx="153.84" cy="425.53" r="1.10" fill="#142d50"/>
<circle cx="150.71" cy="420.46" r="1.10" fill="#142d50"/>
<circle cx="150.67" cy="415.72" r="1.10" fill="#142d50"/>
<circle cx="147.51" cy="412.00" r="1.10" fill="#142d50"/>
<circle cx="150.79" cy="406.57" r="1.10" fill="#142d50"/>
<circle cx="153.39" cy="402.80" r="1.10" fill="#142d50"/>
<circle cx="150.87" cy="396.99" r="1.10" fill="#142d50"/>
<circle cx="150.46" cy="392.57" r="1.10" fill="#142d50"/>
<circle cx="150.86" cy="386.84" r="1.10" fill="#142d50"/>
<rect x="159.30" y="408.30" width="7.00" height="71.20" fill="#f0c8be"/>
<line x1="162.80" y1="384.20" x2="162.80" y2="430.20" stroke="#c40f2e" stroke-width="1.2"/>
<line x1="160.70" y1="384.20" x2="164.90" y2="384.20" stroke="#c40f2e" stroke-width="1.2"/>
<line x1="160.70" y1="430.20" x2="164.90" y2="430.20" stroke="#c40f2e" stroke-width="1.2"/>
<rect x="161.80" y="355.90" width="2.00" height="2.00" fill="#7a1028"/>
<rect x="161.80" y="365.60" width="2.00" height="2.00" fill="#7a1028"/>
<rect x="161.80" y="379.50" width="2.00" height="2.00" fill="#7a1028"/>
<rect x="161.80" y="436.80" width="2.00" height="2.00" fill="#7a1028"/>
<rect x="158.50" y="392.00" width="2.00" height="2.00" fill="#7a1028"/>
<rect x="165.00" y="392.00" width="2.00" height="2.00" fill="#7a1028"/>
<rect x="162.14" y="429.32" width="2.00" height="2.00" fill="#7a1028"/>
<rect x="164.77" y="425.98" width="2.00" height="2.00" fill="#7a1028"/>
<rect x="161.91" y="421.76" width="2.00" height="2.00" fill="#7a1028"/>
<rect x="162.16" y="415.83" width="2.00" height="2.00" fill="#7a1028"/>
<rect x="158.44" y="411.98" width="2.00" height="2.00" fill="#7a1028"/>
<rect x="161.87" y="408.05" width="2.00" height="2.00" fill="#7a1028"/>
<rect x="165.15" y="403.18" width="2.00" height="2.00" fill="#7a1028"/>
<rect x="161.81" y="400.32" width="2.00" height="2.00" fill="#7a1028"/>
<rect x="161.90" y="395.97" width="2.00" height="2.00" fill="#7a1028"/>
<rect x="161.54" y="391.76" width="2.00" height="2.00" fill="#7a1028"/>
<rect x="158.58" y="386.55" width="2.00" height="2.00" fill="#7a1028"/>
<rect x="172.00" y="412.80" width="7.00" height="66.70" fill="#d9e8cb"/>
<line x1="175.50" y1="388.60" x2="175.50" y2="437.00" stroke="#2c932e" stroke-width="1.2"/>
<line x1="173.40" y1="388.60" x2="177.60" y2="388.60" stroke="#2c932e" stroke-width="1.2"/>
<line x1="173.40" y1="437.00" x2="177.60" y2="437.00" stroke="#2c932e" stroke-width="1.2"/>
<path d="M175.50,348.78L176.80,351.09L174.20,351.09Z" fill="#1f5a26"/>
<path d="M175.50,375.78L176.80,378.09L174.20,378.09Z" fill="#1f5a26"/>
<path d="M178.46,436.62L179.76,438.93L177.16,438.93Z" fill="#1f5a26"/>
<path d="M175.58,431.42L176.88,433.73L174.28,433.73Z" fill="#1f5a26"/>
<path d="M175.72,427.00L177.02,429.31L174.42,429.31Z" fill="#1f5a26"/>
<path d="M171.93,424.30L173.23,426.61L170.63,426.61Z" fill="#1f5a26"/>
<path d="M175.50,420.02L176.80,422.33L174.20,422.33Z" fill="#1f5a26"/>
<path d="M179.06,415.81L180.36,418.12L177.76,418.12Z" fill="#1f5a26"/>
<path d="M175.43,412.40L176.73,414.71L174.13,414.71Z" fill="#1f5a26"/>
<path d="M175.73,407.99L177.03,410.30L174.43,410.30Z" fill="#1f5a26"/>
<path d="M175.12,404.13L176.42,406.44L173.82,406.44Z" fill="#1f5a26"/>
<path d="M172.08,399.95L173.38,402.26L170.78,402.26Z" fill="#1f5a26"/>
<path d="M175.58,394.21L176.88,396.52L174.28,396.52Z" fill="#1f5a26"/>
<path d="M179.07,391.52L180.37,393.83L177.77,393.83Z" fill="#1f5a26"/>
<rect x="191.80" y="451.60" width="7.00" height="27.90" fill="#c5cadf"/>
<line x1="195.30" y1="437.10" x2="195.30" y2="463.00" stroke="#1b3f78" stroke-width="1.2"/>
<line x1="193.20" y1="437.10" x2="197.40" y2="437.10" stroke="#1b3f78" stroke-width="1.2"/>
<line x1="193.20" y1="463.00" x2="197.40" y2="463.00" stroke="#1b3f78" stroke-width="1.2"/>
<circle cx="194.20" cy="425.30" r="1.10" fill="#142d50"/>
<circle cx="196.60" cy="425.30" r="1.10" fill="#142d50"/>
<circle cx="195.30" cy="475.00" r="1.10" fill="#142d50"/>
<circle cx="195.46" cy="464.68" r="1.10" fill="#142d50"/>
<circle cx="195.06" cy="463.05" r="1.10" fill="#142d50"/>
<circle cx="192.36" cy="459.03" r="1.10" fill="#142d50"/>
<circle cx="195.20" cy="457.32" r="1.10" fill="#142d50"/>
<circle cx="198.25" cy="456.04" r="1.10" fill="#142d50"/>
<circle cx="195.29" cy="453.99" r="1.10" fill="#142d50"/>
<circle cx="195.63" cy="450.07" r="1.10" fill="#142d50"/>
<circle cx="194.96" cy="448.83" r="1.10" fill="#142d50"/>
<circle cx="192.32" cy="447.12" r="1.10" fill="#142d50"/>
<circle cx="195.43" cy="444.68" r="1.10" fill="#142d50"/>
<circle cx="198.11" cy="442.95" r="1.10" fill="#142d50"/>
<circle cx="195.41" cy="440.67" r="1.10" fill="#142d50"/>
<rect x="204.40" y="431.10" width="7.00" height="48.40" fill="#f0c8be"/>
<line x1="207.90" y1="405.90" x2="207.90" y2="453.10" stroke="#c40f2e" stroke-width="1.2"/>
<line x1="205.80" y1="405.90" x2="210.00" y2="405.90" stroke="#c40f2e" stroke-width="1.2"/>
<line x1="205.80" y1="453.10" x2="210.00" y2="453.10" stroke="#c40f2e" stroke-width="1.2"/>
<rect x="206.90" y="391.20" width="2.00" height="2.00" fill="#7a1028"/>
<rect x="209.20" y="391.20" width="2.00" height="2.00" fill="#7a1028"/>
<rect x="206.90" y="393.90" width="2.00" height="2.00" fill="#7a1028"/>
<rect x="206.90" y="464.00" width="2.00" height="2.00" fill="#7a1028"/>
<rect x="206.90" y="471.00" width="2.00" height="2.00" fill="#7a1028"/>
<rect x="206.60" y="451.82" width="2.00" height="2.00" fill="#7a1028"/>
<rect x="203.44" y="448.77" width="2.00" height="2.00" fill="#7a1028"/>
<rect x="206.87" y="443.82" width="2.00" height="2.00" fill="#7a1028"/>
<rect x="209.87" y="440.38" width="2.00" height="2.00" fill="#7a1028"/>
<rect x="207.17" y="436.31" width="2.00" height="2.00" fill="#7a1028"/>
<rect x="206.65" y="431.77" width="2.00" height="2.00" fill="#7a1028"/>
<rect x="206.69" y="427.55" width="2.00" height="2.00" fill="#7a1028"/>
<rect x="204.09" y="423.66" width="2.00" height="2.00" fill="#7a1028"/>
<rect x="207.29" y="420.09" width="2.00" height="2.00" fill="#7a1028"/>
<rect x="210.42" y="415.70" width="2.00" height="2.00" fill="#7a1028"/>
<rect x="207.05" y="412.44" width="2.00" height="2.00" fill="#7a1028"/>
<rect x="206.72" y="408.73" width="2.00" height="2.00" fill="#7a1028"/>
<rect x="216.70" y="432.70" width="7.00" height="46.80" fill="#d9e8cb"/>
<line x1="220.20" y1="404.30" x2="220.20" y2="460.20" stroke="#2c932e" stroke-width="1.2"/>
<line x1="218.10" y1="404.30" x2="222.30" y2="404.30" stroke="#2c932e" stroke-width="1.2"/>
<line x1="218.10" y1="460.20" x2="222.30" y2="460.20" stroke="#2c932e" stroke-width="1.2"/>
<path d="M217.00,395.58L218.30,397.89L215.70,397.89Z" fill="#1f5a26"/>
<path d="M222.50,395.58L223.80,397.89L221.20,397.89Z" fill="#1f5a26"/>
<path d="M217.00,469.68L218.30,471.99L215.70,471.99Z" fill="#1f5a26"/>
<path d="M223.50,469.68L224.80,471.99L222.20,471.99Z" fill="#1f5a26"/>
<path d="M216.88,459.11L218.18,461.42L215.58,461.42Z" fill="#1f5a26"/>
<path d="M220.03,454.96L221.33,457.27L218.73,457.27Z" fill="#1f5a26"/>
<path d="M223.28,449.55L224.58,451.86L221.98,451.86Z" fill="#1f5a26"/>
<path d="M220.58,444.62L221.88,446.93L219.28,446.93Z" fill="#1f5a26"/>
<path d="M220.16,439.25L221.46,441.56L218.86,441.56Z" fill="#1f5a26"/>
<path d="M220.08,434.75L221.38,437.06L218.78,437.06Z" fill="#1f5a26"/>
<path d="M216.86,431.56L218.16,433.87L215.56,433.87Z" fill="#1f5a26"/>
<path d="M220.14,426.03L221.44,428.34L218.84,428.34Z" fill="#1f5a26"/>
<path d="M223.36,421.54L224.66,423.85L222.06,423.85Z" fill="#1f5a26"/>
<path d="M220.15,415.68L221.45,417.99L218.85,417.99Z" fill="#1f5a26"/>
<path d="M220.43,411.41L221.73,413.72L219.13,413.72Z" fill="#1f5a26"/>
<path d="M216.76,406.98L218.06,409.29L215.46,409.29Z" fill="#1f5a26"/>
<rect x="236.60" y="467.40" width="7.00" height="12.10" fill="#c5cadf"/>
<line x1="240.10" y1="452.70" x2="240.10" y2="479.00" stroke="#1b3f78" stroke-width="1.2"/>
<line x1="238.00" y1="452.70" x2="242.20" y2="452.70" stroke="#1b3f78" stroke-width="1.2"/>
<line x1="238.00" y1="479.00" x2="242.20" y2="479.00" stroke="#1b3f78" stroke-width="1.2"/>
<circle cx="240.10" cy="437.70" r="1.10" fill="#142d50"/>
<circle cx="240.10" cy="446.60" r="1.10" fill="#142d50"/>
<circle cx="240.10" cy="449.10" r="1.10" fill="#142d50"/>
<circle cx="239.93" cy="477.37" r="1.10" fill="#142d50"/>
<circle cx="243.42" cy="474.35" r="1.10" fill="#142d50"/>
<circle cx="239.91" cy="472.70" r="1.10" fill="#142d50"/>
<circle cx="240.21" cy="471.07" r="1.10" fill="#142d50"/>
<circle cx="240.07" cy="470.24" r="1.10" fill="#142d50"/>
<circle cx="237.29" cy="468.24" r="1.10" fill="#142d50"/>
<circle cx="239.76" cy="464.73" r="1.10" fill="#142d50"/>
<circle cx="243.57" cy="462.56" r="1.10" fill="#142d50"/>
<circle cx="240.43" cy="461.43" r="1.10" fill="#142d50"/>
<circle cx="240.22" cy="460.17" r="1.10" fill="#142d50"/>
<circle cx="236.55" cy="457.28" r="1.10" fill="#142d50"/>
<circle cx="240.34" cy="454.25" r="1.10" fill="#142d50"/>
<rect x="249.30" y="461.80" width="7.00" height="17.70" fill="#f0c8be"/>
<line x1="252.80" y1="439.50" x2="252.80" y2="476.00" stroke="#c40f2e" stroke-width="1.2"/>
<line x1="250.70" y1="439.50" x2="254.90" y2="439.50" stroke="#c40f2e" stroke-width="1.2"/>
<line x1="250.70" y1="476.00" x2="254.90" y2="476.00" stroke="#c40f2e" stroke-width="1.2"/>
<rect x="251.80" y="420.30" width="2.00" height="2.00" fill="#7a1028"/>
<rect x="251.80" y="423.30" width="2.00" height="2.00" fill="#7a1028"/>
<rect x="251.80" y="430.90" width="2.00" height="2.00" fill="#7a1028"/>
<rect x="254.69" y="474.77" width="2.00" height="2.00" fill="#7a1028"/>
<rect x="251.95" y="472.42" width="2.00" height="2.00" fill="#7a1028"/>
<rect x="251.49" y="468.81" width="2.00" height="2.00" fill="#7a1028"/>
<rect x="252.01" y="465.88" width="2.00" height="2.00" fill="#7a1028"/>
<rect x="248.79" y="462.61" width="2.00" height="2.00" fill="#7a1028"/>
<rect x="251.51" y="460.53" width="2.00" height="2.00" fill="#7a1028"/>
<rect x="254.96" y="457.17" width="2.00" height="2.00" fill="#7a1028"/>
<rect x="252.20" y="453.81" width="2.00" height="2.00" fill="#7a1028"/>
<rect x="251.42" y="450.07" width="2.00" height="2.00" fill="#7a1028"/>
<rect x="248.52" y="448.65" width="2.00" height="2.00" fill="#7a1028"/>
<rect x="251.66" y="444.06" width="2.00" height="2.00" fill="#7a1028"/>
<rect x="255.36" y="441.28" width="2.00" height="2.00" fill="#7a1028"/>
<rect x="261.50" y="463.80" width="7.00" height="15.70" fill="#d9e8cb"/>
<line x1="265.00" y1="447.60" x2="265.00" y2="479.00" stroke="#2c932e" stroke-width="1.2"/>
<line x1="262.90" y1="447.60" x2="267.10" y2="447.60" stroke="#2c932e" stroke-width="1.2"/>
<line x1="262.90" y1="479.00" x2="267.10" y2="479.00" stroke="#2c932e" stroke-width="1.2"/>
<path d="M265.00,423.98L266.30,426.29L263.70,426.29Z" fill="#1f5a26"/>
<path d="M265.00,438.18L266.30,440.49L263.70,440.49Z" fill="#1f5a26"/>
<path d="M264.77,474.92L266.07,477.23L263.47,477.23Z" fill="#1f5a26"/>
<path d="M265.32,472.94L266.62,475.25L264.02,475.25Z" fill="#1f5a26"/>
<path d="M265.18,470.89L266.48,473.20L263.88,473.20Z" fill="#1f5a26"/>
<path d="M261.81,467.66L263.11,469.97L260.51,469.97Z" fill="#1f5a26"/>
<path d="M265.02,466.72L266.32,469.03L263.72,469.03Z" fill="#1f5a26"/>
<path d="M268.51,464.49L269.81,466.80L267.21,466.80Z" fill="#1f5a26"/>
<path d="M264.60,460.91L265.90,463.22L263.30,463.22Z" fill="#1f5a26"/>
<path d="M264.70,459.24L266.00,461.55L263.40,461.55Z" fill="#1f5a26"/>
<path d="M261.98,455.32L263.28,457.63L260.68,457.63Z" fill="#1f5a26"/>
<path d="M265.27,454.55L266.57,456.86L263.97,456.86Z" fill="#1f5a26"/>
<path d="M267.96,452.34L269.26,454.65L266.66,454.65Z" fill="#1f5a26"/>
<path d="M264.70,448.16L266.00,450.47L263.40,450.47Z" fill="#1f5a26"/>
<rect x="281.50" y="414.60" width="7.00" height="64.90" fill="#c5cadf"/>
<line x1="285.00" y1="376.40" x2="285.00" y2="451.00" stroke="#1b3f78" stroke-width="1.2"/>
<line x1="282.90" y1="376.40" x2="287.10" y2="376.40" stroke="#1b3f78" stroke-width="1.2"/>
<line x1="282.90" y1="451.00" x2="287.10" y2="451.00" stroke="#1b3f78" stroke-width="1.2"/>
<circle cx="285.00" cy="343.50" r="1.10" fill="#142d50"/>
<circle cx="285.00" cy="360.60" r="1.10" fill="#142d50"/>
<circle cx="285.00" cy="363.30" r="1.10" fill="#142d50"/>
<circle cx="282.00" cy="390.30" r="1.10" fill="#142d50"/>
<circle cx="289.00" cy="390.30" r="1.10" fill="#142d50"/>
<circle cx="285.00" cy="466.00" r="1.10" fill="#142d50"/>
<circle cx="285.11" cy="450.20" r="1.10" fill="#142d50"/>
<circle cx="284.82" cy="443.82" r="1.10" fill="#142d50"/>
<circle cx="282.11" cy="436.62" r="1.10" fill="#142d50"/>
<circle cx="284.75" cy="430.26" r="1.10" fill="#142d50"/>
<circle cx="288.29" cy="422.88" r="1.10" fill="#142d50"/>
<circle cx="285.37" cy="415.71" r="1.10" fill="#142d50"/>
<circle cx="284.96" cy="408.88" r="1.10" fill="#142d50"/>
<circle cx="281.91" cy="402.84" r="1.10" fill="#142d50"/>
<circle cx="284.85" cy="394.68" r="1.10" fill="#142d50"/>
<circle cx="287.84" cy="388.20" r="1.10" fill="#142d50"/>
<circle cx="285.19" cy="381.55" r="1.10" fill="#142d50"/>
<rect x="294.00" y="399.30" width="7.00" height="80.20" fill="#f0c8be"/>
<line x1="297.50" y1="357.90" x2="297.50" y2="437.60" stroke="#c40f2e" stroke-width="1.2"/>
<line x1="295.40" y1="357.90" x2="299.60" y2="357.90" stroke="#c40f2e" stroke-width="1.2"/>
<line x1="295.40" y1="437.60" x2="299.60" y2="437.60" stroke="#c40f2e" stroke-width="1.2"/>
<rect x="296.50" y="338.90" width="2.00" height="2.00" fill="#7a1028"/>
<rect x="296.50" y="340.70" width="2.00" height="2.00" fill="#7a1028"/>
<rect x="296.50" y="343.00" width="2.00" height="2.00" fill="#7a1028"/>
<rect x="296.50" y="345.20" width="2.00" height="2.00" fill="#7a1028"/>
<rect x="296.50" y="454.00" width="2.00" height="2.00" fill="#7a1028"/>
<rect x="296.50" y="466.00" width="2.00" height="2.00" fill="#7a1028"/>
<rect x="296.57" y="435.80" width="2.00" height="2.00" fill="#7a1028"/>
<rect x="293.62" y="429.70" width="2.00" height="2.00" fill="#7a1028"/>
<rect x="296.39" y="423.05" width="2.00" height="2.00" fill="#7a1028"/>
<rect x="299.64" y="416.46" width="2.00" height="2.00" fill="#7a1028"/>
<rect x="296.18" y="408.45" width="2.00" height="2.00" fill="#7a1028"/>
<rect x="296.22" y="402.14" width="2.00" height="2.00" fill="#7a1028"/>
<rect x="293.39" y="394.94" width="2.00" height="2.00" fill="#7a1028"/>
<rect x="296.70" y="389.22" width="2.00" height="2.00" fill="#7a1028"/>
<rect x="299.35" y="381.11" width="2.00" height="2.00" fill="#7a1028"/>
<rect x="296.54" y="374.72" width="2.00" height="2.00" fill="#7a1028"/>
<rect x="296.74" y="369.17" width="2.00" height="2.00" fill="#7a1028"/>
<rect x="296.57" y="362.63" width="2.00" height="2.00" fill="#7a1028"/>
<rect x="306.60" y="419.50" width="7.00" height="60.00" fill="#d9e8cb"/>
<line x1="310.10" y1="384.50" x2="310.10" y2="453.80" stroke="#2c932e" stroke-width="1.2"/>
<line x1="308.00" y1="384.50" x2="312.20" y2="384.50" stroke="#2c932e" stroke-width="1.2"/>
<line x1="308.00" y1="453.80" x2="312.20" y2="453.80" stroke="#2c932e" stroke-width="1.2"/>
<path d="M310.10,354.78L311.40,357.09L308.80,357.09Z" fill="#1f5a26"/>
<path d="M310.10,357.48L311.40,359.79L308.80,359.79Z" fill="#1f5a26"/>
<path d="M310.10,375.48L311.40,377.79L308.80,377.79Z" fill="#1f5a26"/>
<path d="M310.10,466.68L311.40,468.99L308.80,468.99Z" fill="#1f5a26"/>
<path d="M307.10,452.15L308.40,454.46L305.80,454.46Z" fill="#1f5a26"/>
<path d="M310.39,446.69L311.69,449.00L309.09,449.00Z" fill="#1f5a26"/>
<path d="M313.67,439.91L314.97,442.22L312.37,442.22Z" fill="#1f5a26"/>
<path d="M310.30,434.61L311.60,436.92L309.00,436.92Z" fill="#1f5a26"/>
<path d="M310.44,429.13L311.74,431.44L309.14,431.44Z" fill="#1f5a26"/>
<path d="M306.79,422.31L308.09,424.62L305.49,424.62Z" fill="#1f5a26"/>
<path d="M310.17,417.34L311.47,419.65L308.87,419.65Z" fill="#1f5a26"/>
<path d="M313.19,411.54L314.49,413.85L311.89,413.85Z" fill="#1f5a26"/>
<path d="M309.71,406.09L311.01,408.40L308.41,408.40Z" fill="#1f5a26"/>
<path d="M310.00,399.77L311.30,402.08L308.70,402.08Z" fill="#1f5a26"/>
<path d="M310.24,392.52L311.54,394.83L308.94,394.83Z" fill="#1f5a26"/>
<path d="M306.69,386.71L307.99,389.02L305.39,389.02Z" fill="#1f5a26"/>
<rect x="102.10" y="476" width="7" height="3.5" fill="#c5cadf"/>
<rect x="114.40" y="476" width="7" height="3.5" fill="#f0c8be"/>
<rect x="126.80" y="476" width="7" height="3.5" fill="#d9e8cb"/>
<rect x="326.20" y="476" width="7" height="3.5" fill="#c5cadf"/>
<rect x="338.60" y="476" width="7" height="3.5" fill="#f0c8be"/>
<rect x="351.10" y="476" width="7" height="3.5" fill="#d9e8cb"/>
<circle cx="105.60" cy="464.10" r="1.21" fill="#142d50"/>
<circle cx="104.80" cy="467.90" r="1.21" fill="#142d50"/>
<line x1="105.6" y1="472.2" x2="105.6" y2="479" stroke="#1b3f78" stroke-width="1.2"/>
<line x1="103.5" y1="472.2" x2="107.69999999999999" y2="472.2" stroke="#1b3f78" stroke-width="1.2"/>
<circle cx="105.60" cy="474.50" r="1.21" fill="#1b3f78"/>
<circle cx="104.10" cy="474.50" r="1.21" fill="#1b3f78"/>
<circle cx="107.10" cy="474.50" r="1.21" fill="#1b3f78"/>
<circle cx="105.60" cy="476.50" r="1.21" fill="#1b3f78"/>
<circle cx="103.85" cy="476.50" r="1.21" fill="#1b3f78"/>
<circle cx="107.35" cy="476.50" r="1.21" fill="#1b3f78"/>
<circle cx="102.10" cy="476.50" r="1.21" fill="#1b3f78"/>
<circle cx="109.10" cy="476.50" r="1.21" fill="#1b3f78"/>
<circle cx="105.60" cy="478.50" r="1.21" fill="#1b3f78"/>
<circle cx="103.85" cy="478.50" r="1.21" fill="#1b3f78"/>
<circle cx="107.35" cy="478.50" r="1.21" fill="#1b3f78"/>
<circle cx="102.10" cy="478.50" r="1.21" fill="#1b3f78"/>
<circle cx="109.10" cy="478.50" r="1.21" fill="#1b3f78"/>
<circle cx="105.60" cy="480.00" r="1.21" fill="#1b3f78"/>
<circle cx="103.10" cy="480.00" r="1.21" fill="#1b3f78"/>
<circle cx="108.10" cy="480.00" r="1.21" fill="#1b3f78"/>
<rect x="115.90" y="454.70" width="2.20" height="2.20" fill="#7a1028"/>
<rect x="116.90" y="458.70" width="2.20" height="2.20" fill="#7a1028"/>
<line x1="117.9" y1="467.5" x2="117.9" y2="479" stroke="#c40f2e" stroke-width="1.2"/>
<line x1="115.80000000000001" y1="467.5" x2="120.0" y2="467.5" stroke="#c40f2e" stroke-width="1.2"/>
<rect x="116.80" y="468.40" width="2.20" height="2.20" fill="#c40f2e"/>
<rect x="115.30" y="468.40" width="2.20" height="2.20" fill="#c40f2e"/>
<rect x="118.30" y="468.40" width="2.20" height="2.20" fill="#c40f2e"/>
<rect x="116.80" y="470.90" width="2.20" height="2.20" fill="#c40f2e"/>
<rect x="116.80" y="473.40" width="2.20" height="2.20" fill="#c40f2e"/>
<rect x="115.30" y="473.40" width="2.20" height="2.20" fill="#c40f2e"/>
<rect x="118.30" y="473.40" width="2.20" height="2.20" fill="#c40f2e"/>
<rect x="113.80" y="473.40" width="2.20" height="2.20" fill="#c40f2e"/>
<rect x="119.80" y="473.40" width="2.20" height="2.20" fill="#c40f2e"/>
<rect x="116.80" y="475.40" width="2.20" height="2.20" fill="#c40f2e"/>
<rect x="114.90" y="475.40" width="2.20" height="2.20" fill="#c40f2e"/>
<rect x="118.70" y="475.40" width="2.20" height="2.20" fill="#c40f2e"/>
<rect x="113.00" y="475.40" width="2.20" height="2.20" fill="#c40f2e"/>
<rect x="120.60" y="475.40" width="2.20" height="2.20" fill="#c40f2e"/>
<rect x="116.80" y="477.40" width="2.20" height="2.20" fill="#c40f2e"/>
<rect x="114.90" y="477.40" width="2.20" height="2.20" fill="#c40f2e"/>
<rect x="118.70" y="477.40" width="2.20" height="2.20" fill="#c40f2e"/>
<rect x="113.00" y="477.40" width="2.20" height="2.20" fill="#c40f2e"/>
<rect x="120.60" y="477.40" width="2.20" height="2.20" fill="#c40f2e"/>
<rect x="116.80" y="478.90" width="2.20" height="2.20" fill="#c40f2e"/>
<rect x="114.30" y="478.90" width="2.20" height="2.20" fill="#c40f2e"/>
<rect x="119.30" y="478.90" width="2.20" height="2.20" fill="#c40f2e"/>
<line x1="130.3" y1="469.5" x2="130.3" y2="479" stroke="#2c932e" stroke-width="1.2"/>
<line x1="128.20000000000002" y1="469.5" x2="132.4" y2="469.5" stroke="#2c932e" stroke-width="1.2"/>
<path d="M130.30,467.05L131.73,469.59L128.87,469.59Z" fill="#2c932e"/>
<path d="M128.80,467.05L130.23,469.59L127.37,469.59Z" fill="#2c932e"/>
<path d="M131.80,467.05L133.23,469.59L130.37,469.59Z" fill="#2c932e"/>
<path d="M127.30,467.05L128.73,469.59L125.87,469.59Z" fill="#2c932e"/>
<path d="M133.30,467.05L134.73,469.59L131.87,469.59Z" fill="#2c932e"/>
<path d="M130.30,469.55L131.73,472.09L128.87,472.09Z" fill="#2c932e"/>
<path d="M128.80,469.55L130.23,472.09L127.37,472.09Z" fill="#2c932e"/>
<path d="M131.80,469.55L133.23,472.09L130.37,472.09Z" fill="#2c932e"/>
<path d="M130.30,472.05L131.73,474.59L128.87,474.59Z" fill="#2c932e"/>
<path d="M128.80,472.05L130.23,474.59L127.37,474.59Z" fill="#2c932e"/>
<path d="M131.80,472.05L133.23,474.59L130.37,474.59Z" fill="#2c932e"/>
<path d="M127.30,472.05L128.73,474.59L125.87,474.59Z" fill="#2c932e"/>
<path d="M133.30,472.05L134.73,474.59L131.87,474.59Z" fill="#2c932e"/>
<path d="M130.30,474.05L131.73,476.59L128.87,476.59Z" fill="#2c932e"/>
<path d="M128.20,474.05L129.63,476.59L126.77,476.59Z" fill="#2c932e"/>
<path d="M132.40,474.05L133.83,476.59L130.97,476.59Z" fill="#2c932e"/>
<path d="M126.10,474.05L127.53,476.59L124.67,476.59Z" fill="#2c932e"/>
<path d="M134.50,474.05L135.93,476.59L133.07,476.59Z" fill="#2c932e"/>
<path d="M130.30,476.05L131.73,478.59L128.87,478.59Z" fill="#2c932e"/>
<path d="M128.80,476.05L130.23,478.59L127.37,478.59Z" fill="#2c932e"/>
<path d="M131.80,476.05L133.23,478.59L130.37,478.59Z" fill="#2c932e"/>
<path d="M127.30,476.05L128.73,478.59L125.87,478.59Z" fill="#2c932e"/>
<path d="M133.30,476.05L134.73,478.59L131.87,478.59Z" fill="#2c932e"/>
<path d="M130.30,478.05L131.73,480.59L128.87,480.59Z" fill="#2c932e"/>
<path d="M128.20,478.05L129.63,480.59L126.77,480.59Z" fill="#2c932e"/>
<path d="M132.40,478.05L133.83,480.59L130.97,480.59Z" fill="#2c932e"/>
<path d="M126.10,478.05L127.53,480.59L124.67,480.59Z" fill="#2c932e"/>
<path d="M134.50,478.05L135.93,480.59L133.07,480.59Z" fill="#2c932e"/>
<circle cx="329.70" cy="448.70" r="1.21" fill="#142d50"/>
<line x1="329.7" y1="465.5" x2="329.7" y2="481.5" stroke="#1b3f78" stroke-width="1.2"/>
<line x1="327.59999999999997" y1="465.5" x2="331.8" y2="465.5" stroke="#1b3f78" stroke-width="1.2"/>
<circle cx="329.70" cy="465.50" r="1.21" fill="#1b3f78"/>
<circle cx="329.70" cy="468.50" r="1.21" fill="#1b3f78"/>
<circle cx="329.70" cy="471.50" r="1.21" fill="#1b3f78"/>
<circle cx="329.70" cy="474.50" r="1.21" fill="#1b3f78"/>
<circle cx="328.20" cy="474.50" r="1.21" fill="#1b3f78"/>
<circle cx="331.20" cy="474.50" r="1.21" fill="#1b3f78"/>
<circle cx="329.70" cy="476.50" r="1.21" fill="#1b3f78"/>
<circle cx="327.95" cy="476.50" r="1.21" fill="#1b3f78"/>
<circle cx="331.45" cy="476.50" r="1.21" fill="#1b3f78"/>
<circle cx="326.20" cy="476.50" r="1.21" fill="#1b3f78"/>
<circle cx="333.20" cy="476.50" r="1.21" fill="#1b3f78"/>
<circle cx="329.70" cy="478.50" r="1.21" fill="#1b3f78"/>
<circle cx="328.20" cy="478.50" r="1.21" fill="#1b3f78"/>
<circle cx="331.20" cy="478.50" r="1.21" fill="#1b3f78"/>
<circle cx="326.70" cy="478.50" r="1.21" fill="#1b3f78"/>
<circle cx="332.70" cy="478.50" r="1.21" fill="#1b3f78"/>
<circle cx="329.70" cy="481.00" r="1.21" fill="#1b3f78"/>
<circle cx="328.20" cy="481.00" r="1.21" fill="#1b3f78"/>
<circle cx="331.20" cy="481.00" r="1.21" fill="#1b3f78"/>
<rect x="341.00" y="461.40" width="2.20" height="2.20" fill="#7a1028"/>
<rect x="341.00" y="465.50" width="2.20" height="2.20" fill="#7a1028"/>
<line x1="342.1" y1="472.5" x2="342.1" y2="480.5" stroke="#c40f2e" stroke-width="1.2"/>
<line x1="340.0" y1="472.5" x2="344.20000000000005" y2="472.5" stroke="#c40f2e" stroke-width="1.2"/>
<rect x="341.00" y="473.40" width="2.20" height="2.20" fill="#c40f2e"/>
<rect x="338.50" y="473.40" width="2.20" height="2.20" fill="#c40f2e"/>
<rect x="343.50" y="473.40" width="2.20" height="2.20" fill="#c40f2e"/>
<rect x="341.00" y="475.20" width="2.20" height="2.20" fill="#c40f2e"/>
<rect x="339.00" y="475.20" width="2.20" height="2.20" fill="#c40f2e"/>
<rect x="343.00" y="475.20" width="2.20" height="2.20" fill="#c40f2e"/>
<rect x="337.00" y="475.20" width="2.20" height="2.20" fill="#c40f2e"/>
<rect x="345.00" y="475.20" width="2.20" height="2.20" fill="#c40f2e"/>
<rect x="341.00" y="477.10" width="2.20" height="2.20" fill="#c40f2e"/>
<rect x="339.25" y="477.10" width="2.20" height="2.20" fill="#c40f2e"/>
<rect x="342.75" y="477.10" width="2.20" height="2.20" fill="#c40f2e"/>
<rect x="337.50" y="477.10" width="2.20" height="2.20" fill="#c40f2e"/>
<rect x="344.50" y="477.10" width="2.20" height="2.20" fill="#c40f2e"/>
<rect x="341.00" y="479.10" width="2.20" height="2.20" fill="#c40f2e"/>
<rect x="339.20" y="479.10" width="2.20" height="2.20" fill="#c40f2e"/>
<rect x="342.80" y="479.10" width="2.20" height="2.20" fill="#c40f2e"/>
<line x1="354.6" y1="465" x2="354.6" y2="479.5" stroke="#2c932e" stroke-width="1.2"/>
<line x1="352.5" y1="465" x2="356.70000000000005" y2="465" stroke="#2c932e" stroke-width="1.2"/>
<path d="M354.60,464.05L356.03,466.59L353.17,466.59Z" fill="#2c932e"/>
<path d="M354.60,466.05L356.03,468.59L353.17,468.59Z" fill="#2c932e"/>
<path d="M353.60,466.05L355.03,468.59L352.17,468.59Z" fill="#2c932e"/>
<path d="M355.60,466.05L357.03,468.59L354.17,468.59Z" fill="#2c932e"/>
<path d="M354.60,468.55L356.03,471.09L353.17,471.09Z" fill="#2c932e"/>
<path d="M353.80,468.55L355.23,471.09L352.37,471.09Z" fill="#2c932e"/>
<path d="M355.40,468.55L356.83,471.09L353.97,471.09Z" fill="#2c932e"/>
<path d="M354.60,471.05L356.03,473.59L353.17,473.59Z" fill="#2c932e"/>
<path d="M354.60,473.55L356.03,476.09L353.17,476.09Z" fill="#2c932e"/>
<path d="M353.60,473.55L355.03,476.09L352.17,476.09Z" fill="#2c932e"/>
<path d="M355.60,473.55L357.03,476.09L354.17,476.09Z" fill="#2c932e"/>
<path d="M354.60,476.05L356.03,478.59L353.17,478.59Z" fill="#2c932e"/>
<path d="M352.10,476.05L353.53,478.59L350.67,478.59Z" fill="#2c932e"/>
<path d="M357.10,476.05L358.53,478.59L355.67,478.59Z" fill="#2c932e"/>
<path d="M354.60,477.85L356.03,480.39L353.17,480.39Z" fill="#2c932e"/>
<path d="M352.50,477.85L353.93,480.39L351.07,480.39Z" fill="#2c932e"/>
<path d="M356.70,477.85L358.13,480.39L355.27,480.39Z" fill="#2c932e"/>
<path d="M350.40,477.85L351.83,480.39L348.97,480.39Z" fill="#2c932e"/>
<path d="M358.80,477.85L360.23,480.39L357.37,480.39Z" fill="#2c932e"/>
<line x1="194.7" y1="368.6" x2="221" y2="368.6" stroke="#111" stroke-width="1.5"/>
<line x1="194.7" y1="383.9" x2="208.4" y2="383.9" stroke="#111" stroke-width="1.5"/>
<text x="207.9" y="367.5" text-anchor="middle" font-size="11" fill="#111">*</text>
<text x="201.5" y="382.5" text-anchor="middle" font-size="11" fill="#111">*</text>
<line x1="98" y1="611" x2="98" y2="777.7" stroke="#000" stroke-width="1.9"/>
<line x1="97.05" y1="776.75" x2="205" y2="776.75" stroke="#000" stroke-width="1.9"/>
<line x1="92" y1="616.75" x2="98" y2="616.75" stroke="#000" stroke-width="1.9"/>
<text x="85.90" y="621.05" text-anchor="end" font-size="12" letter-spacing="0.7" fill="#111">20000</text>
<line x1="92" y1="656.75" x2="98" y2="656.75" stroke="#000" stroke-width="1.9"/>
<text x="85.90" y="661.05" text-anchor="end" font-size="12" letter-spacing="0.7" fill="#111">15000</text>
<line x1="92" y1="696.75" x2="98" y2="696.75" stroke="#000" stroke-width="1.9"/>
<text x="85.90" y="701.05" text-anchor="end" font-size="12" letter-spacing="0.7" fill="#111">10000</text>
<line x1="92" y1="736.75" x2="98" y2="736.75" stroke="#000" stroke-width="1.9"/>
<text x="85.90" y="741.05" text-anchor="end" font-size="12" letter-spacing="0.7" fill="#111">5000</text>
<line x1="92" y1="776.75" x2="98" y2="776.75" stroke="#000" stroke-width="1.9"/>
<text x="85.90" y="781.05" text-anchor="end" font-size="12" letter-spacing="0.7" fill="#111">0</text>
<line x1="128.4" y1="776.75" x2="128.4" y2="782.75" stroke="#000" stroke-width="1.9"/>
<line x1="174.1" y1="776.75" x2="174.1" y2="782.75" stroke="#000" stroke-width="1.9"/>
<text x="132.30" y="794.55" transform="rotate(-45 132.30 794.55)" text-anchor="end" font-size="12.4" fill="#111">Low V&#947;9V&#948;2 T-cells</text>
<text x="178.00" y="794.55" transform="rotate(-45 178.00 794.55)" text-anchor="end" font-size="12.4" fill="#111">High V&#947;9V&#948;2 T-cells</text>
<text transform="translate(37.40 693.70) rotate(-90)" x="0" y="0" text-anchor="middle" font-size="17.3" textLength="122.6" lengthAdjust="spacingAndGlyphs" fill="#111" stroke="#111" stroke-width="0.45">BTN3A 108.5 molecules</text>
<rect x="113" y="728.8" width="30.4" height="13.5" fill="#c5cadf"/>
<line x1="128.4" y1="718.1" x2="128.4" y2="749.6" stroke="#1b3f78" stroke-width="1.3"/>
<line x1="120.3" y1="718.1" x2="135.7" y2="718.1" stroke="#1b3f78" stroke-width="1.3"/>
<line x1="118.8" y1="749.6" x2="135.7" y2="749.6" stroke="#1b3f78" stroke-width="1.3"/>
<line x1="113" y1="733.3" x2="143.4" y2="733.3" stroke="#1b3f78" stroke-width="2"/>
<circle cx="131.7" cy="717.9" r="2.1" fill="#1b3f78"/>
<circle cx="124.8" cy="720.8" r="2.1" fill="#1b3f78"/>
<circle cx="138" cy="727.3" r="2.1" fill="#1b3f78"/>
<circle cx="124.8" cy="728.5" r="2.1" fill="#1b3f78"/>
<circle cx="118.4" cy="733.1" r="2.1" fill="#1b3f78"/>
<circle cx="124.8" cy="734.2" r="2.1" fill="#1b3f78"/>
<circle cx="131.7" cy="732.3" r="2.1" fill="#1b3f78"/>
<circle cx="138" cy="732.3" r="2.1" fill="#1b3f78"/>
<circle cx="131.7" cy="738.5" r="2.1" fill="#1b3f78"/>
<circle cx="138" cy="737.7" r="2.1" fill="#1b3f78"/>
<circle cx="124.8" cy="740.8" r="2.1" fill="#1b3f78"/>
<circle cx="118.4" cy="743.5" r="2.1" fill="#1b3f78"/>
<circle cx="118.4" cy="749.6" r="2.1" fill="#1b3f78"/>
<circle cx="131.7" cy="747.7" r="2.1" fill="#1b3f78"/>
<circle cx="138" cy="746.9" r="2.1" fill="#1b3f78"/>
<rect x="158.9" y="688" width="30" height="39.8" fill="#f0c8be"/>
<line x1="174.1" y1="645.3" x2="174.1" y2="753.2" stroke="#c40f2e" stroke-width="1.3"/>
<line x1="166.2" y1="645.3" x2="181.5" y2="645.3" stroke="#c40f2e" stroke-width="1.3"/>
<line x1="166.2" y1="753.2" x2="181.5" y2="753.2" stroke="#c40f2e" stroke-width="1.3"/>
<line x1="158.9" y1="719.4" x2="188.9" y2="719.4" stroke="#c40f2e" stroke-width="2"/>
<rect x="172.29999999999998" y="643.5" width="3.6" height="3.6" fill="#c40f2e"/>
<rect x="172.29999999999998" y="652.1" width="3.6" height="3.6" fill="#c40f2e"/>
<rect x="172.29999999999998" y="683.0" width="3.6" height="3.6" fill="#c40f2e"/>
<rect x="172.29999999999998" y="694.2" width="3.6" height="3.6" fill="#c40f2e"/>
<rect x="172.29999999999998" y="713.3000000000001" width="3.6" height="3.6" fill="#c40f2e"/>
<rect x="166.0" y="717.6" width="3.6" height="3.6" fill="#c40f2e"/>
<rect x="172.29999999999998" y="717.6" width="3.6" height="3.6" fill="#c40f2e"/>
<rect x="178.6" y="717.6" width="3.6" height="3.6" fill="#c40f2e"/>
<rect x="166.0" y="723.5" width="3.6" height="3.6" fill="#c40f2e"/>
<rect x="172.29999999999998" y="726.9000000000001" width="3.6" height="3.6" fill="#c40f2e"/>
<rect x="172.29999999999998" y="736.0" width="3.6" height="3.6" fill="#c40f2e"/>
<rect x="172.29999999999998" y="751.4000000000001" width="3.6" height="3.6" fill="#c40f2e"/>
<text x="151" y="636.5" text-anchor="middle" font-size="10" fill="#111">**</text>
<line x1="342.5" y1="611" x2="342.5" y2="777.7" stroke="#000" stroke-width="1.9"/>
<line x1="341.55" y1="776.75" x2="449.5" y2="776.75" stroke="#000" stroke-width="1.9"/>
<line x1="336.5" y1="616.25" x2="342.5" y2="616.25" stroke="#000" stroke-width="1.9"/>
<text x="330.40" y="620.55" text-anchor="end" font-size="12" letter-spacing="0.7" fill="#111">25000</text>
<line x1="336.5" y1="648.35" x2="342.5" y2="648.35" stroke="#000" stroke-width="1.9"/>
<text x="330.40" y="652.65" text-anchor="end" font-size="12" letter-spacing="0.7" fill="#111">20000</text>
<line x1="336.5" y1="680.45" x2="342.5" y2="680.45" stroke="#000" stroke-width="1.9"/>
<text x="330.40" y="684.75" text-anchor="end" font-size="12" letter-spacing="0.7" fill="#111">15000</text>
<line x1="336.5" y1="712.55" x2="342.5" y2="712.55" stroke="#000" stroke-width="1.9"/>
<text x="330.40" y="716.85" text-anchor="end" font-size="12" letter-spacing="0.7" fill="#111">10000</text>
<line x1="336.5" y1="744.65" x2="342.5" y2="744.65" stroke="#000" stroke-width="1.9"/>
<text x="330.40" y="748.95" text-anchor="end" font-size="12" letter-spacing="0.7" fill="#111">5000</text>
<line x1="336.5" y1="776.75" x2="342.5" y2="776.75" stroke="#000" stroke-width="1.9"/>
<text x="330.40" y="781.05" text-anchor="end" font-size="12" letter-spacing="0.7" fill="#111">0</text>
<line x1="372.4" y1="776.75" x2="372.4" y2="782.75" stroke="#000" stroke-width="1.9"/>
<line x1="418.5" y1="776.75" x2="418.5" y2="782.75" stroke="#000" stroke-width="1.9"/>
<text x="376.30" y="794.55" transform="rotate(-45 376.30 794.55)" text-anchor="end" font-size="12.4" fill="#111">Low V&#947;9V&#948;2 T-cells</text>
<text x="422.40" y="794.55" transform="rotate(-45 422.40 794.55)" text-anchor="end" font-size="12.4" fill="#111">High V&#947;9V&#948;2 T-cells</text>
<text transform="translate(281.80 693.30) rotate(-90)" x="0" y="0" text-anchor="middle" font-size="17.3" textLength="115.2" lengthAdjust="spacingAndGlyphs" fill="#111" stroke="#111" stroke-width="0.45">BTN3A 20.1 molecules</text>
<rect x="357.8" y="725.3" width="30.2" height="16.5" fill="#c5cadf"/>
<line x1="372.4" y1="716.8" x2="372.4" y2="746.8" stroke="#1b3f78" stroke-width="1.3"/>
<line x1="364.7" y1="716.8" x2="380.8" y2="716.8" stroke="#1b3f78" stroke-width="1.3"/>
<line x1="364.7" y1="746.8" x2="380.8" y2="746.8" stroke="#1b3f78" stroke-width="1.3"/>
<line x1="357.8" y1="732" x2="388" y2="732" stroke="#1b3f78" stroke-width="2"/>
<circle cx="365.8" cy="717.8" r="1.7" fill="#1b3f78"/>
<circle cx="372.4" cy="716.3" r="1.7" fill="#1b3f78"/>
<circle cx="372.4" cy="720.7" r="1.7" fill="#1b3f78"/>
<circle cx="372.4" cy="725.7" r="1.7" fill="#1b3f78"/>
<circle cx="365.8" cy="726.5" r="1.7" fill="#1b3f78"/>
<circle cx="379.1" cy="725.7" r="1.7" fill="#1b3f78"/>
<circle cx="379.1" cy="731.7" r="1.7" fill="#1b3f78"/>
<circle cx="372.4" cy="732.2" r="1.7" fill="#1b3f78"/>
<circle cx="365.8" cy="737.1" r="1.7" fill="#1b3f78"/>
<circle cx="372.4" cy="738" r="1.7" fill="#1b3f78"/>
<circle cx="372.4" cy="743.8" r="1.7" fill="#1b3f78"/>
<circle cx="379.1" cy="741.8" r="1.7" fill="#1b3f78"/>
<circle cx="365.8" cy="747.2" r="1.7" fill="#1b3f78"/>
<circle cx="379.1" cy="745.9" r="1.7" fill="#1b3f78"/>
<rect x="403.3" y="680.4" width="30.7" height="53.9" fill="#f0c8be"/>
<line x1="418.5" y1="645.5" x2="418.5" y2="751.8" stroke="#c40f2e" stroke-width="1.3"/>
<line x1="410.6" y1="645.5" x2="426.6" y2="645.5" stroke="#c40f2e" stroke-width="1.3"/>
<line x1="410.6" y1="751.8" x2="426.6" y2="751.8" stroke="#c40f2e" stroke-width="1.3"/>
<line x1="403.3" y1="712" x2="434" y2="712" stroke="#c40f2e" stroke-width="2"/>
<rect x="416.8" y="643.8" width="3.4" height="3.4" fill="#c40f2e"/>
<rect x="416.8" y="654.3" width="3.4" height="3.4" fill="#c40f2e"/>
<rect x="416.8" y="675.6999999999999" width="3.4" height="3.4" fill="#c40f2e"/>
<rect x="416.8" y="686.1999999999999" width="3.4" height="3.4" fill="#c40f2e"/>
<rect x="416.8" y="699.9" width="3.4" height="3.4" fill="#c40f2e"/>
<rect x="416.8" y="705.6999999999999" width="3.4" height="3.4" fill="#c40f2e"/>
<rect x="416.8" y="714.5" width="3.4" height="3.4" fill="#c40f2e"/>
<rect x="416.8" y="724.0" width="3.4" height="3.4" fill="#c40f2e"/>
<rect x="416.8" y="731.1999999999999" width="3.4" height="3.4" fill="#c40f2e"/>
<rect x="416.8" y="737.0999999999999" width="3.4" height="3.4" fill="#c40f2e"/>
<rect x="416.8" y="750.0999999999999" width="3.4" height="3.4" fill="#c40f2e"/>
<rect x="423.5" y="733.0" width="3.4" height="3.4" fill="#c40f2e"/>
<text x="395.5" y="636.5" text-anchor="middle" font-size="10" fill="#111">**</text>
</svg></body></html>
